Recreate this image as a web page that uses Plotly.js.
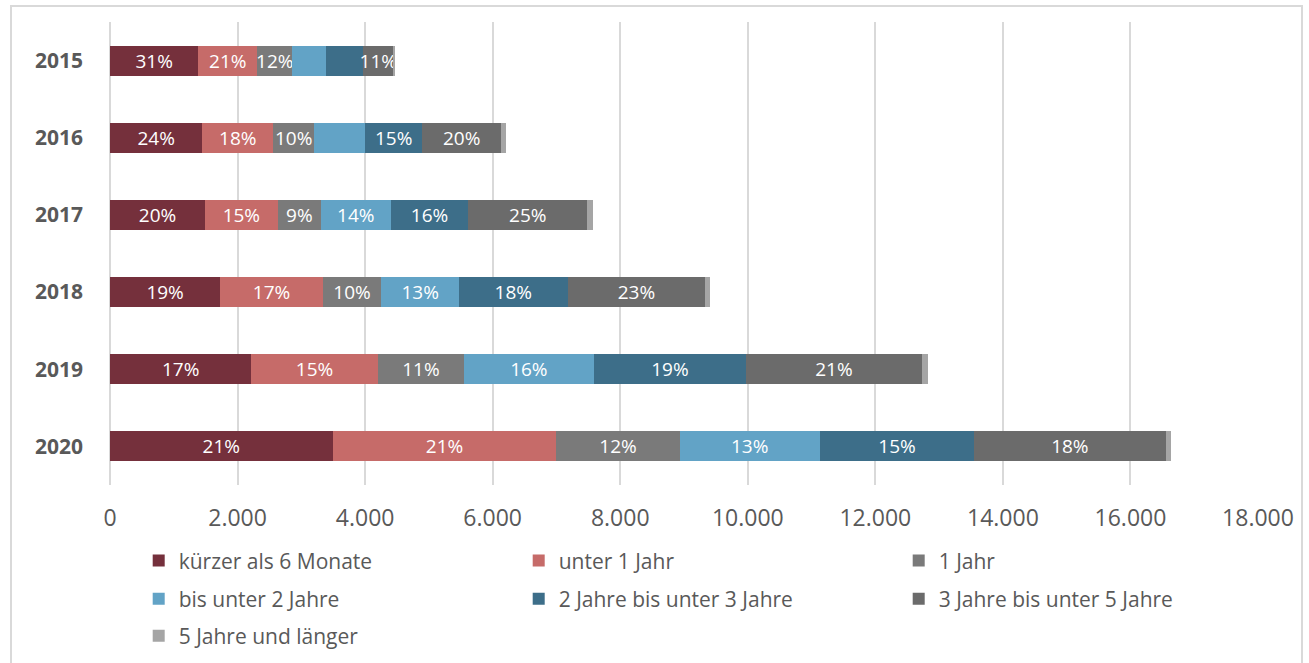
<!DOCTYPE html>
<html>
<head>
<meta charset="utf-8">
<script src="https://cdn.plot.ly/plotly-3.0.1.min.js"></script>
<style>
  html, body { margin: 0; padding: 0; background: #ffffff; overflow: hidden; }
  #chart { width: 1309px; height: 663px; position: relative; }
  #frame { position: absolute; left: 10px; top: 5px; width: 1293px; height: 700px;
           border: 2px solid #d9d9d9; pointer-events: none; box-sizing: border-box; }
</style>
</head>
<body>
<div id="chart"></div>
<div id="frame"></div>
<script>
// Categories (years)
const years = ['2015', '2016', '2017', '2018', '2019', '2020'];

// Series values (counts per duration class)
const kurz6Monate   = [1384, 1447, 1490, 1728, 2215, 3490];
const unter1Jahr    = [926, 1114, 1139, 1608, 1985, 3510];
const einJahr       = [548, 638, 679, 919, 1350, 1930];
const bisUnter2     = [529, 799, 1093, 1217, 2035, 2200];
const j2bisUnter3   = [585, 899, 1217, 1704, 2390, 2420];
const j3bisUnter5   = [470, 1233, 1866, 2155, 2752, 3000];
const j5undLaenger  = [28, 74, 84, 76, 94, 80];

// Data labels as shown in the chart
const lblKurz   = ['31%', '24%', '20%', '19%', '17%', '21%'];
const lblUnter1 = ['21%', '18%', '15%', '17%', '15%', '21%'];
const lblEin    = ['12%', '10%', '9%', '10%', '11%', '12%'];
const lblBis2   = ['', '', '14%', '13%', '16%', '13%'];
const lbl2bis3  = ['', '15%', '16%', '18%', '19%', '15%'];
const lbl3bis5  = ['11%', '20%', '25%', '23%', '21%', '18%'];
const lbl5plus  = ['', '', '', '', '', ''];

const seriesNames = ['kürzer als 6 Monate', 'unter 1 Jahr', '1 Jahr', 'bis unter 2 Jahre',
                     '2 Jahre bis unter 3 Jahre', '3 Jahre bis unter 5 Jahre', '5 Jahre und länger'];
const seriesValues = [kurz6Monate, unter1Jahr, einJahr, bisUnter2, j2bisUnter3, j3bisUnter5, j5undLaenger];
const seriesLabels = [lblKurz, lblUnter1, lblEin, lblBis2, lbl2bis3, lbl3bis5, lbl5plus];
const seriesColors = ['#75303C', '#C66B69', '#7A7A7A', '#62A3C6', '#3D6E89', '#6B6B6B', '#A5A5A5'];
const seriesLegend = ['legend', 'legend', 'legend', 'legend2', 'legend2', 'legend2', 'legend3'];

const FONT = '"Open Sans", "Noto Sans", sans-serif';

const traces = seriesNames.map((name, i) => ({
  type: 'bar',
  orientation: 'h',
  name: name,
  y: years,
  x: seriesValues[i],
  text: seriesLabels[i],
  textposition: 'inside',
  insidetextanchor: 'middle',
  textangle: 0,
  constraintext: 'none',
  textfont: { family: FONT, size: 19, color: '#ffffff' },
  marker: { color: seriesColors[i], line: { width: 0 } },
  legend: seriesLegend[i],
  hoverinfo: 'x+y+name'
}));

const legendCommon = {
  orientation: 'h',
  xref: 'paper', yref: 'container',
  x: 0.025, xanchor: 'left',
  yanchor: 'middle',
  entrywidth: 335,
  entrywidthmode: 'pixels',
  font: { family: FONT, size: 21, color: '#595959' },
  bgcolor: 'rgba(0,0,0,0)',
  borderwidth: 0,
  traceorder: 'normal'
};

const layout = {
  width: 1309,
  height: 663,
  margin: { l: 110, r: 51, t: 22, b: 178, autoexpand: false },
  paper_bgcolor: '#ffffff',
  plot_bgcolor: '#ffffff',
  barmode: 'stack',
  bargap: 0.61,
  separators: ',.',
  showlegend: true,
  font: { family: FONT, color: '#595959' },
  xaxis: {
    range: [0, 18000],
    dtick: 2000,
    tick0: 0,
    tickformat: ',d',
    showgrid: true,
    gridcolor: '#d9d9d9',
    gridwidth: 2,
    zeroline: true,
    zerolinecolor: '#d9d9d9',
    zerolinewidth: 2,
    showline: false,
    ticks: '',
    ticklabelstandoff: 17,
    tickfont: { family: FONT, size: 23, color: '#595959' },
    fixedrange: true
  },
  yaxis: {
    type: 'category',
    autorange: 'reversed',
    showgrid: false,
    zeroline: false,
    showline: false,
    ticks: '',
    ticklabelstandoff: 26,
    tickfont: { family: FONT, size: 21, color: '#595959', weight: 'bold' },
    fixedrange: true
  },
  legend: Object.assign({}, legendCommon, { y: 0.154 }),
  legend2: Object.assign({}, legendCommon, { y: 0.0965 }),
  legend3: Object.assign({}, legendCommon, { y: 0.0407 })
};

Plotly.newPlot('chart', traces, layout, { displayModeBar: false, staticPlot: true });
</script>
</body>
</html>
